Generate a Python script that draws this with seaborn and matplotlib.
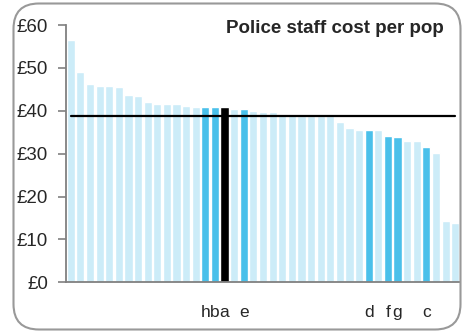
import matplotlib
matplotlib.use("Agg")
import matplotlib.pyplot as plt
import seaborn as sns
import pandas as pd
from matplotlib.patches import FancyBboxPatch

values = [56.5, 49.1, 46.2, 45.8, 45.8, 45.5, 43.7, 43.4, 42.0, 41.6,
          41.6, 41.6, 41.1, 40.9, 40.9, 40.9, 40.9, 40.4, 40.4, 39.9,
          39.7, 39.7, 39.2, 38.9, 38.8, 38.8, 38.8, 38.7, 37.4, 36.0,
          35.5, 35.5, 35.5, 34.1, 33.9, 32.9, 32.9, 31.5, 30.1, 14.3, 13.8]
labels = ["", "", "", "", "", "", "", "", "", "",
          "", "", "", "", "h", "b", "a", "", "e", "",
          "", "", "", "", "", "", "", "", "", "",
          "", "d", "", "f", "g", "", "", "c", "", "", ""]
# 0 = other, 1 = comparator, 2 = selected
groups = [0] * 41
for i, l in enumerate(labels):
    if l:
        groups[i] = 1
groups[16] = 2
average = 38.8
yticks = [0, 10, 20, 30, 40, 50, 60]
ytick_labels = ["£0", "£10", "£20", "£30", "£40", "£50", "£60"]
title = "Police staff cost per pop"

colors = {0: "#CCECF8", 1: "#4AC0EA", 2: "#000000"}

sns.set_style("white")
plt.rcParams["font.family"] = ["Liberation Sans", "DejaVu Sans"]

cats = [f"U{i:02d}" for i in range(len(values))]
df = pd.DataFrame({"unit": cats, "value": values, "group": groups})

fig = plt.figure(figsize=(4.62, 3.32), dpi=100)
ax = fig.add_axes([66 / 462, 49.7 / 332, 394 / 462, 257.3 / 332])

sns.barplot(data=df, x="unit", y="value", hue="unit", order=cats,
            palette=[colors[g] for g in groups], width=0.85,
            saturation=1, legend=False, ax=ax)
ax.plot([0, len(values) - 1], [average, average], color="black", lw=1.6, zorder=5)

ax.set_xlim(-0.5, len(values) - 0.5)
ax.set_ylim(0, 60)
ax.set_yticks(yticks)
ax.set_yticklabels(ytick_labels, fontsize=13.5)
ax.set_xticks(range(len(values)))
ax.set_xticklabels(labels, fontsize=12.5)
ax.set_xlabel("")
ax.set_ylabel("")
ax.tick_params(axis="y", length=6, width=1.2, color="#808080", pad=7, left=True)
ax.tick_params(axis="x", length=0, pad=16)
for s in ["top", "right"]:
    ax.spines[s].set_visible(False)
for s in ["left", "bottom"]:
    ax.spines[s].set_color("#808080")
    ax.spines[s].set_linewidth(1.3)

ax.text(0.959, 0.969, title, transform=ax.transAxes, ha="right",
        va="baseline", fontsize=13.5, fontweight="bold")

border = FancyBboxPatch((13.5 / 462, 2.5 / 332), 447 / 462, 326 / 332,
                        boxstyle="round,pad=0,rounding_size=0.055",
                        transform=fig.transFigure, fill=False,
                        edgecolor="#999999", lw=1.5, zorder=0,
                        mutation_aspect=462 / 332)
fig.patches.append(border)

fig.savefig("out.png", dpi=100)
